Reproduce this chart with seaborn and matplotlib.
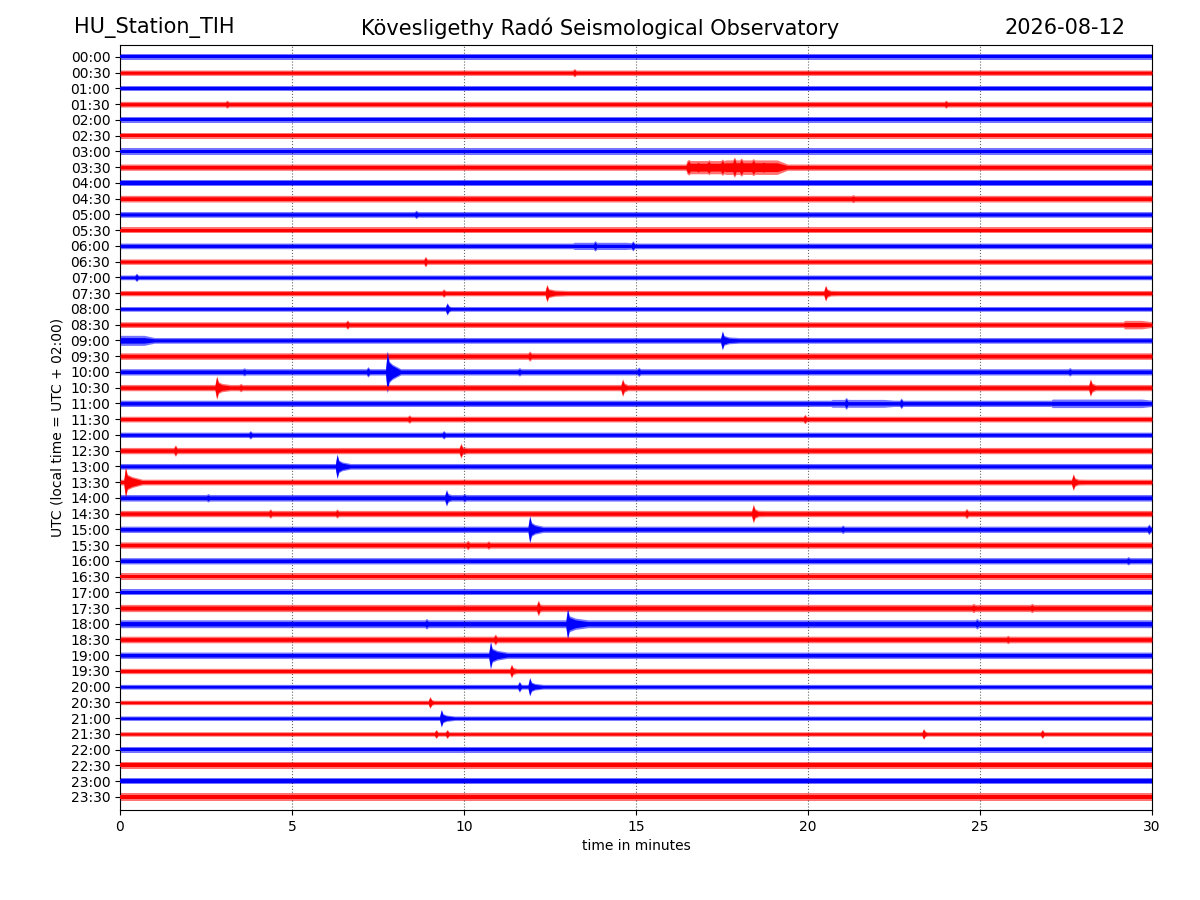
import numpy as np
import matplotlib
matplotlib.use("Agg")
import matplotlib.pyplot as plt
import seaborn as sns

# ---------------- data ----------------
station = "HU_Station_TIH"
observatory = "Kövesligethy Radó Seismological Observatory"
date_label = "2026-08-12"

row_labels = ["00:00", "00:30", "01:00", "01:30", "02:00", "02:30", "03:00", "03:30",
              "04:00", "04:30", "05:00", "05:30", "06:00", "06:30", "07:00", "07:30",
              "08:00", "08:30", "09:00", "09:30", "10:00", "10:30", "11:00", "11:30",
              "12:00", "12:30", "13:00", "13:30", "14:00", "14:30", "15:00", "15:30",
              "16:00", "16:30", "17:00", "17:30", "18:00", "18:30", "19:00", "19:30",
              "20:00", "20:30", "21:00", "21:30", "22:00", "22:30", "23:00", "23:30"]

row_colors = ["blue", "red"] * 24

# background noise half-amplitude of each trace (in trace-spacing units)
noise_level = [0.17, 0.17, 0.18, 0.18, 0.18, 0.18, 0.20, 0.20,
               0.20, 0.21, 0.18, 0.17, 0.18, 0.17, 0.15, 0.17,
               0.15, 0.18, 0.18, 0.21, 0.20, 0.20, 0.20, 0.18,
               0.17, 0.20, 0.18, 0.18, 0.21, 0.20, 0.20, 0.20,
               0.20, 0.21, 0.20, 0.23, 0.25, 0.21, 0.20, 0.17,
               0.15, 0.14, 0.14, 0.14, 0.18, 0.23, 0.21, 0.26]

# sustained bursts of raised amplitude: trace index, start (min), end (min), half-amplitude
burst_row = [7, 7, 18, 22, 22, 17, 12]
burst_start = [16.48, 17.6, 0.0, 20.7, 27.1, 29.2, 13.2]
burst_end = [18.6, 19.4, 1.0, 22.5, 30.0, 30.0, 15.0]
burst_amp = [0.42, 0.46, 0.32, 0.25, 0.27, 0.27, 0.23]

# events: trace index, onset time (min), half-amplitude (trace units), duration (min)
ev_row = [1, 3, 3,
          7, 7, 7, 7, 7, 7, 7, 7,
          9, 10, 12, 12, 13, 14, 15, 15, 15,
          16, 17, 18, 19, 20, 20, 20, 20, 20, 20, 21, 21, 21, 21,
          22, 22, 23, 23, 24, 24, 25, 25, 26, 27, 27, 28, 28, 28,
          29, 29, 29, 29, 30, 30, 30, 31, 31, 32, 35, 35, 35, 36, 36, 36,
          37, 37, 38, 39, 40, 40, 41, 42, 43, 43, 43, 43]
ev_time = [13.2, 3.1, 24.0,
           16.52, 16.8, 17.1, 17.5, 17.85, 18.05, 18.4, 18.7,
           21.3, 8.6, 13.8, 14.9, 8.87, 0.47, 12.4, 20.5, 9.4,
           9.5, 6.6, 17.5, 11.9, 7.76, 7.2, 11.6, 3.6, 15.07, 27.6, 2.8, 3.5, 14.6, 28.2,
           21.1, 22.7, 8.4, 19.9, 3.78, 9.4, 1.6, 9.9, 6.3, 0.15, 27.7, 9.48, 2.55, 10.0,
           4.36, 6.3, 18.4, 24.6, 11.9, 21.0, 29.9, 10.1, 10.7, 29.3, 12.15, 24.8, 26.5, 13.0, 8.9, 24.9,
           10.9, 25.8, 10.76, 11.37, 11.9, 11.6, 9.0, 9.33, 9.18, 9.5, 23.35, 26.8]
ev_amp = [0.27, 0.26, 0.26,
          0.50, 0.40, 0.48, 0.52, 0.64, 0.58, 0.54, 0.40,
          0.26, 0.27, 0.33, 0.32, 0.34, 0.27, 0.57, 0.52, 0.27,
          0.40, 0.30, 0.62, 0.33, 1.36, 0.33, 0.27, 0.26, 0.30, 0.27, 0.76, 0.27, 0.57, 0.57,
          0.38, 0.34, 0.27, 0.30, 0.27, 0.27, 0.37, 0.48, 0.80, 0.99, 0.54, 0.54, 0.27, 0.28,
          0.30, 0.29, 0.60, 0.33, 0.89, 0.27, 0.34, 0.30, 0.27, 0.27, 0.51, 0.30, 0.30, 1.02, 0.34, 0.34,
          0.35, 0.27, 0.89, 0.44, 0.60, 0.35, 0.38, 0.57, 0.29, 0.29, 0.35, 0.29]
ev_dur = [0.2, 0.4, 0.3,
          0.3, 0.3, 0.3, 0.3, 0.3, 0.3, 0.4, 0.4,
          0.2, 0.2, 0.4, 0.3, 0.4, 0.2, 0.6, 0.4, 0.3,
          0.3, 0.3, 0.5, 0.3, 0.4, 0.2, 0.2, 0.2, 0.2, 0.2, 0.4, 0.3, 0.4, 0.4,
          0.3, 0.3, 0.2, 0.3, 0.2, 0.2, 0.5, 0.5, 0.4, 0.5, 0.4, 0.4, 0.2, 0.6,
          0.2, 0.2, 0.4, 0.2, 0.4, 0.2, 0.2, 0.2, 0.2, 0.2, 0.3, 0.2, 0.2, 0.6, 0.3, 0.3,
          0.2, 0.2, 0.5, 0.4, 0.4, 0.2, 0.3, 0.4, 0.2, 0.2, 0.3, 0.2]

x_ticks = [0, 5, 10, 15, 20, 25, 30]
# ---------------------------------------------------------------

sns.set_style("ticks")
plt.rcParams.update({
    "font.family": ["DejaVu Sans"],
    "text.color": "black",
    "axes.labelcolor": "black",
    "axes.edgecolor": "black",
    "xtick.color": "black",
    "ytick.color": "black",
    "font.size": 10,
})

fig = plt.figure(figsize=(12, 9), dpi=100)
ax = fig.add_axes([0.1, 0.1, 0.86, 0.85])

t0, t1 = 0.0, 30.0
for i, (lab, col, h0) in enumerate(zip(row_labels, row_colors, noise_level)):
    spikes, bursts = [], []
    pts = {t0, t1}
    for r, t, a, d in zip(ev_row, ev_time, ev_amp, ev_dur):
        if r != i:
            continue
        xs = [t - 0.04, t + 0.01, t + 0.06, t + 0.4 * d, t + d]
        ys = [h0, a, max(h0, 0.5 * a), max(h0, 0.35 * a), h0]
        spikes.append((xs, ys))
    for r, s0, s1, a in zip(burst_row, burst_start, burst_end, burst_amp):
        if r != i:
            continue
        xs = [s0 - 0.03, s0, s1 - 0.3, s1]
        ys = [h0, a, a, h0]
        bursts.append((xs, ys))
    for xs, ys in spikes + bursts:
        pts.update(p for p in xs if t0 <= p <= t1)
    x = np.array(sorted(pts))
    spike_env = np.full_like(x, h0)
    for xs, ys in spikes:
        spike_env = np.maximum(spike_env, np.interp(x, xs, ys, left=h0, right=h0))
    halo = spike_env.copy()
    for xs, ys in bursts:
        halo = np.maximum(halo, np.interp(x, xs, ys, left=h0, right=h0))
    core = np.maximum(spike_env - 0.45 * h0, 0.8 * halo - 0.45 * h0)
    ax.fill_between(x, i - halo, i + halo, color=col, alpha=0.55, lw=0, zorder=2)
    ax.fill_between(x, i - core, i + core, color=col, alpha=1.0, lw=0, zorder=3)

ax.set_xlim(t0, t1)
ax.set_ylim(47.83, -0.76)
ax.set_yticks(range(len(row_labels)))
ax.set_yticklabels(row_labels)
ax.set_xticks(x_ticks)
ax.xaxis.grid(True, linestyle=":", color="black", alpha=0.6, lw=0.8)
ax.set_axisbelow(False)
ax.set_xlabel("time in minutes")
ax.set_ylabel("UTC (local time = UTC + 02:00)")
for s in ax.spines.values():
    s.set_visible(True)
    s.set_color("black")

fig.text(0.062, 0.969, station, fontsize=15, ha="left", va="center")
fig.text(0.5, 0.969, observatory, fontsize=15, ha="center", va="center")
fig.text(0.9375, 0.969, date_label, fontsize=15, ha="right", va="center")

fig.savefig("out.png", dpi=100)
